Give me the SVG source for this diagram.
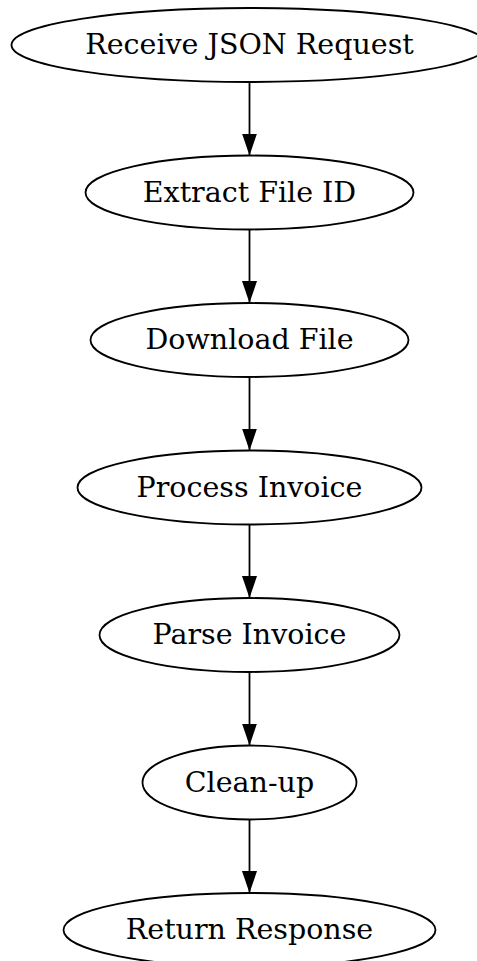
<svg xmlns="http://www.w3.org/2000/svg" width="477" height="961" viewBox="0 0 477 961">
<style>
.n ellipse{fill:none;stroke:#000;stroke-width:1.8}
.n text{font-family:"DejaVu Serif",serif;font-size:28.5px;text-anchor:middle;fill:#000}
.e path{stroke:#000;stroke-width:1.8;fill:none}
</style>
<defs>
<marker id="ah" viewBox="0 0 22 15" markerUnits="userSpaceOnUse" markerWidth="22" markerHeight="15" refX="22" refY="7.5" orient="auto">
<path d="M0,0 L22,7.5 L0,15 z" fill="#000"/>
</marker>
</defs>
<rect width="477" height="961" fill="#fff"/>
<g id="edges" class="e">
<path d="M249.5,82 V155.5" marker-end="url(#ah)"/>
<path d="M249.5,229.5 V303" marker-end="url(#ah)"/>
<path d="M249.5,377 V450.5" marker-end="url(#ah)"/>
<path d="M249.5,524.5 V598" marker-end="url(#ah)"/>
<path d="M249.5,672 V745.5" marker-end="url(#ah)"/>
<path d="M249.5,819.5 V893" marker-end="url(#ah)"/>
</g>
<g id="n1" class="n"><ellipse cx="249.5" cy="45" rx="238" ry="37"/><text x="249.5" y="54">Receive JSON Request</text></g>
<g id="n2" class="n"><ellipse cx="249.5" cy="192.5" rx="164" ry="37"/><text x="249.5" y="201.5">Extract File ID</text></g>
<g id="n3" class="n"><ellipse cx="249.5" cy="340" rx="159" ry="37"/><text x="249.5" y="349">Download File</text></g>
<g id="n4" class="n"><ellipse cx="249.5" cy="487.5" rx="172" ry="37"/><text x="249.5" y="496.5">Process Invoice</text></g>
<g id="n5" class="n"><ellipse cx="249.5" cy="635" rx="150" ry="37"/><text x="249.5" y="644">Parse Invoice</text></g>
<g id="n6" class="n"><ellipse cx="249.5" cy="782.5" rx="107" ry="37"/><text x="249.5" y="791.5">Clean-up</text></g>
<g id="n7" class="n"><ellipse cx="249.5" cy="930" rx="186" ry="37"/><text x="249.5" y="939">Return Response</text></g>
</svg>
